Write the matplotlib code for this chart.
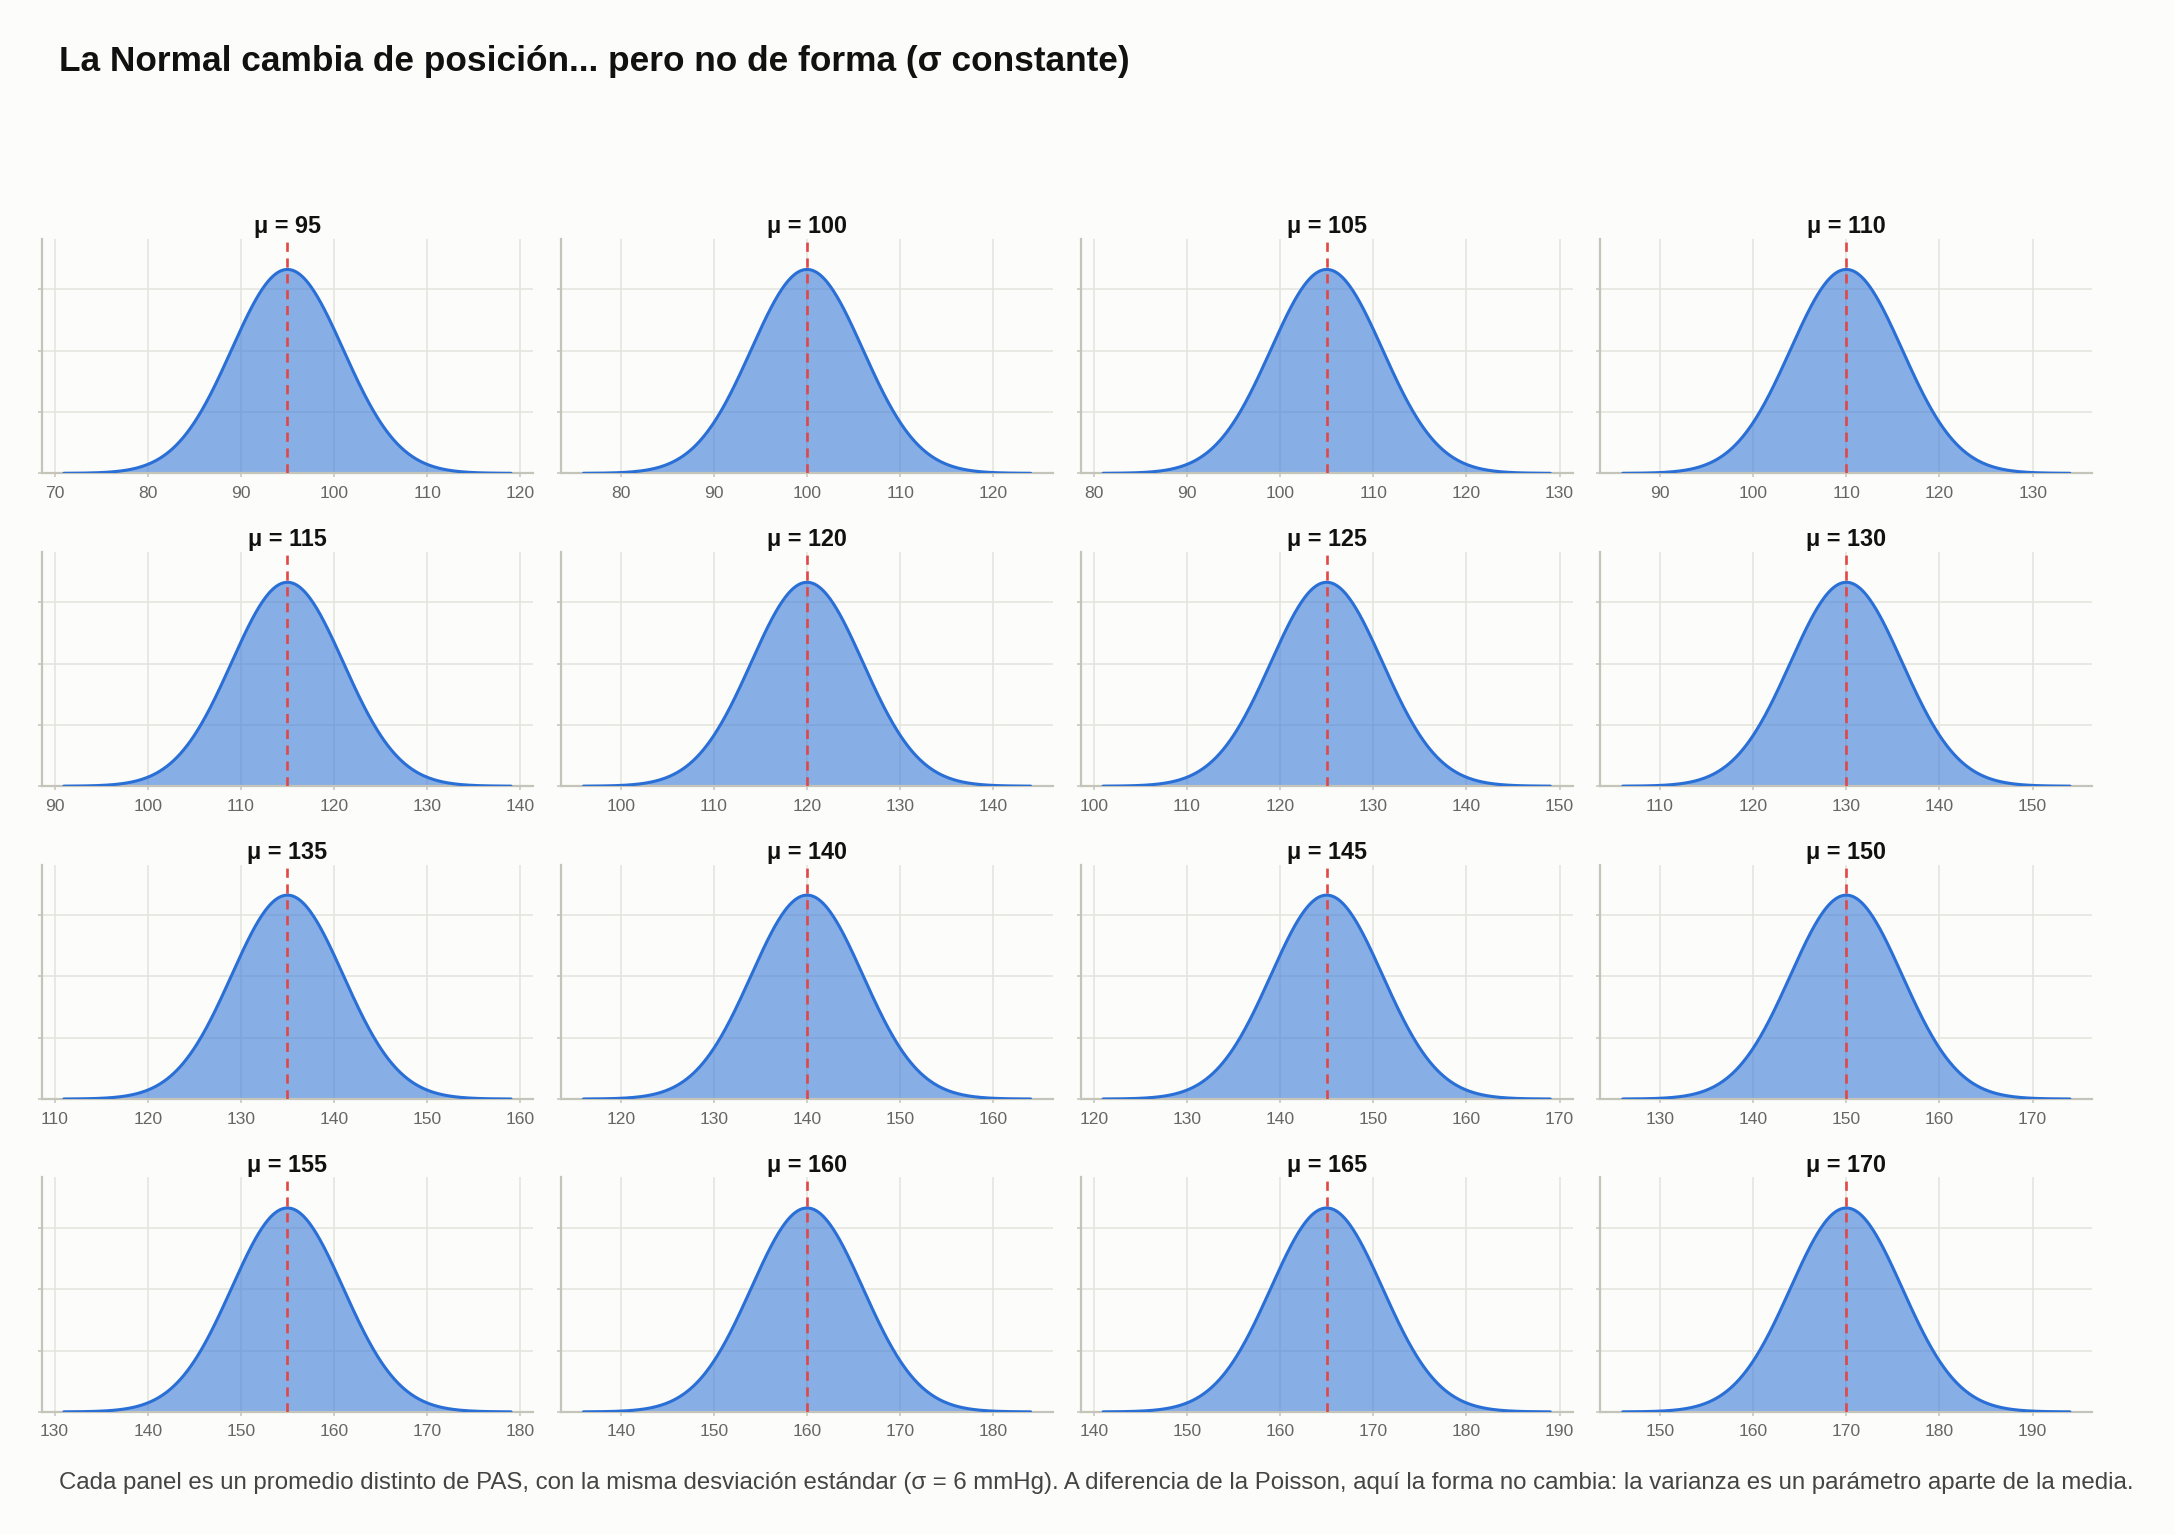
import numpy as np
import matplotlib
matplotlib.use("Agg")
import matplotlib.pyplot as plt
from matplotlib.ticker import MaxNLocator

plt.rcParams['font.family'] = ['Liberation Sans', 'DejaVu Sans']

# ---- data ----
means = [95, 100, 105, 110, 115, 120, 125, 130, 135, 140, 145, 150, 155, 160, 165, 170]
sigma = 6
title = "La Normal cambia de posición... pero no de forma (σ constante)"
caption = ("Cada panel es un promedio distinto de PAS, con la misma desviación estándar (σ = 6 mmHg). "
           "A diferencia de la Poisson, aquí la forma no cambia: la varianza es un parámetro aparte de la media.")

BG = '#FCFCFA'
LINE = '#2A6FD6'
RED = '#E04848'
GRID = '#E4E4DE'
SPINE = '#C4C4BA'

fig = plt.figure(figsize=(21.74, 15.34), dpi=100, facecolor=BG)
gs = fig.add_gridspec(4, 4, left=0.0191, right=0.9624, top=0.8443, bottom=0.0796,
                      wspace=0.0565, hspace=0.334)

peak = 1.0 / (sigma * np.sqrt(2 * np.pi))
for i, mu in enumerate(means):
    ax = fig.add_subplot(gs[i // 4, i % 4])
    ax.set_facecolor(BG)
    x = np.linspace(mu - 4 * sigma, mu + 4 * sigma, 400)
    y = np.exp(-0.5 * ((x - mu) / sigma) ** 2) / (sigma * np.sqrt(2 * np.pi))
    ax.fill_between(x, 0, y, color=LINE, alpha=0.55, lw=0, zorder=2)
    ax.plot(x, y, color=LINE, lw=2.2, zorder=3, solid_capstyle='round')
    ax.axvline(mu, color=RED, lw=1.9, ls=(0, (3.5, 2.5)), zorder=4)
    ax.set_ylim(0, peak * 1.15)
    ax.yaxis.set_major_locator(MaxNLocator(nbins=4))
    ax.set_yticklabels([])
    ax.grid(True, color=GRID, lw=1.1, zorder=0)
    ax.set_axisbelow(True)
    for s in ['top', 'right']:
        ax.spines[s].set_visible(False)
    for s in ['left', 'bottom']:
        ax.spines[s].set_color(SPINE)
        ax.spines[s].set_linewidth(1.6)
    ax.tick_params(axis='both', colors='#666666', length=3, width=1.1, labelsize=12.6, pad=6)
    ax.tick_params(axis='both', color=SPINE)
    ax.set_title(f"μ = {mu}", fontsize=16.8, fontweight='bold', color='#111111', pad=4)

fig.text(0.027, 0.960, title, fontsize=25.4, fontweight='bold', color='#111111',
         ha='left', va='center')
fig.text(0.027, 0.033, caption, fontsize=17.3, color='#444444', ha='left', va='center')

fig.savefig('out.png', dpi=100, facecolor=BG)
